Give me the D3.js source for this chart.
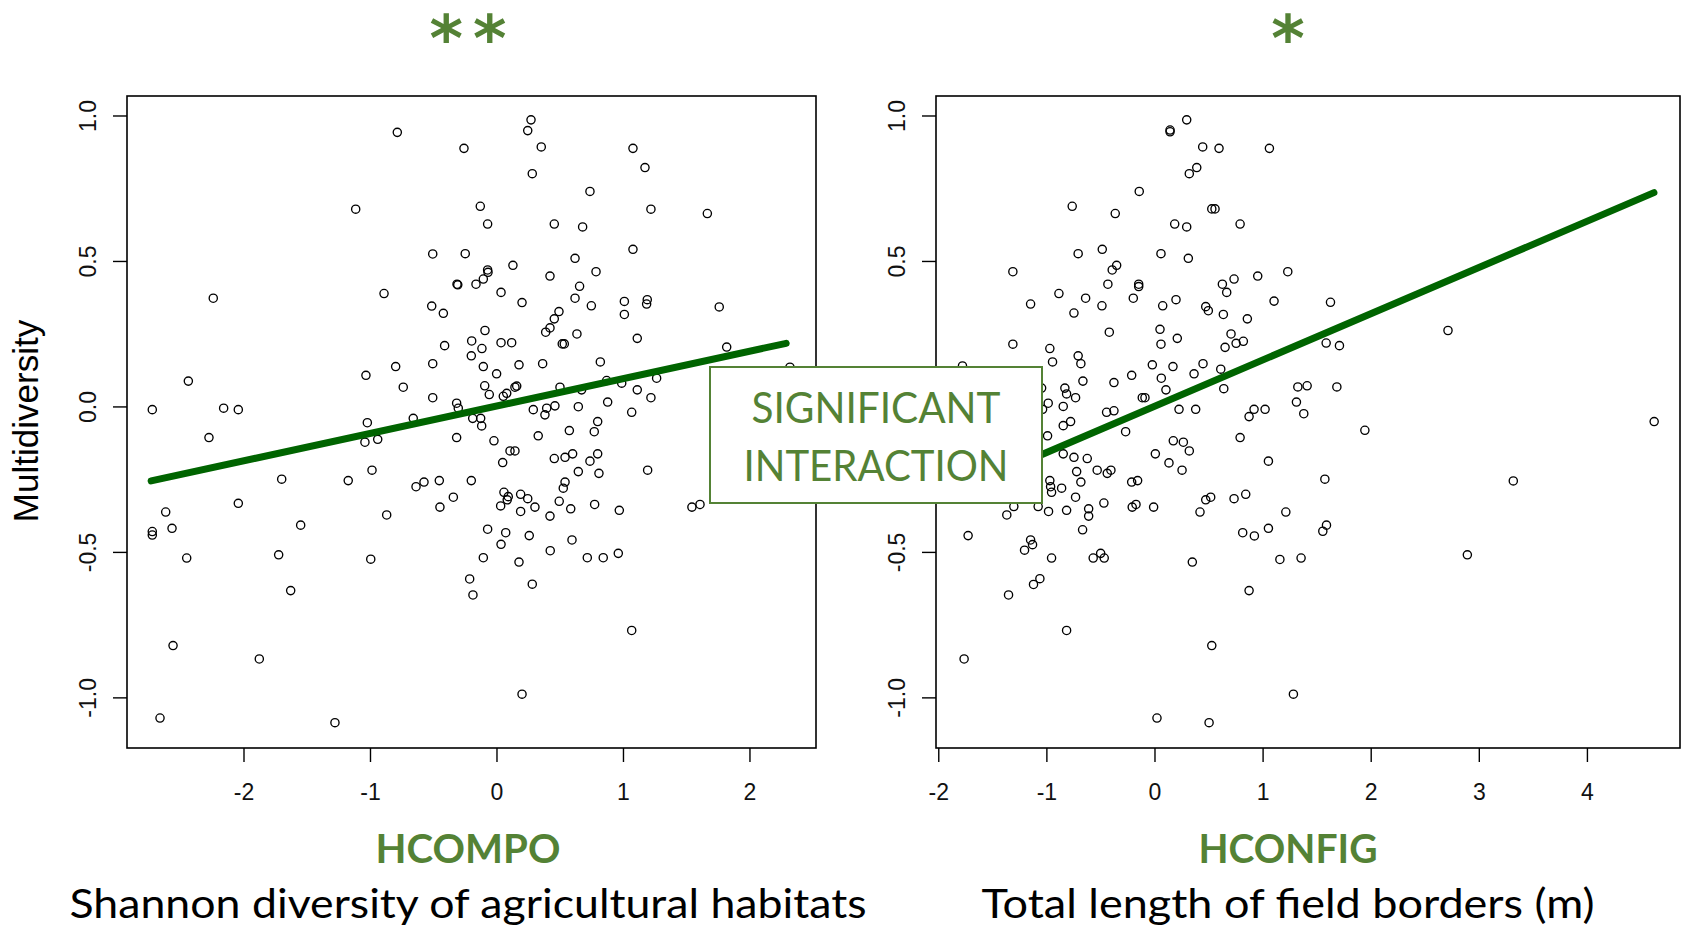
<!DOCTYPE html>
<html>
<head>
<meta charset="utf-8">
<script src="https://cdn.jsdelivr.net/npm/d3@7"></script>
<style>
  html, body { margin: 0; padding: 0; background: #fff; }
  svg { display: block; }
</style>
</head>
<body>
<svg id="chart" width="1682" height="929"></svg>
<script>
// ---------------- DATA ----------------
const yTicks = [-1, -0.5, 0, 0.5, 1];
const yTickLabels = ["-1.0", "-0.5", "0.0", "0.5", "1.0"];
const hcompoTicks = [-2, -1, 0, 1, 2];
const hconfigTicks = [-2, -1, 0, 1, 2, 3, 4];

const hcompoX = [-0.784,-1.113,-0.504,-2.239,-0.889,-0.512,-0.420,-0.410,-0.797,-0.504,-1.032,-0.737,-0.504,-2.436,-2.721,-2.157,-2.041,
 0.273,0.247,-0.257,0.354,1.079,1.174,0.283,0.739,-0.128,-0.070,0.457,0.681,1.221,1.667,-0.247,1.079,0.621,0.130,-0.070,-0.067,-0.104,-0.162,-0.312,-0.306,
 0.423,0.787,0.657,0.036,0.202,0.621,0.750,1.011,1.192,1.187,1.011,1.761,0.494,0.457,0.423,0.389,-0.091,0.636,1.113,-0.196,-0.115,0.036,0.120,0.520,0.536,1.820,
 -0.199,-0.104,0.001,0.178,0.365,0.821,-0.093,-0.057,0.054,0.081,0.146,0.160,0.502,0.673,0.871,0.990,1.113,1.266,-0.315,-0.302,1.221,0.879,0.647,0.291,0.397,0.462,1.069,2.320,-0.658,
 -0.188,-0.125,-0.117,-0.315,-0.020,0.330,0.383,0.800,0.773,0.576,0.107,0.146,0.049,0.457,0.542,0.602,0.739,0.800,0.647,0.810,1.195,
 -0.636,-0.573,-0.452,-0.199,0.542,0.528,-0.341,-0.447,0.059,0.093,0.085,0.033,0.191,0.247,0.191,0.304,0.496,0.587,0.423,0.776,0.971,1.545,1.609,
 -0.070,0.073,0.259,0.036,0.597,0.425,-0.104,0.178,0.718,0.844,0.963,-0.212,-0.186,0.283,1.069,0.202,
 -2.273,-1.021,-1.040,-0.939,-0.984,-1.698,-1.172,-2.041,-0.868,-2.615,-2.721,-2.721,-2.565,-1.548,-2.449,-1.722,-0.994,-1.627,-2.557,-1.875,-2.660,-1.277];
const hcompoY = [0.942,0.678,0.524,0.372,0.388,0.345,0.320,0.209,0.137,0.147,0.107,0.066,0.030,0.087,-0.011,-0.006,-0.011,
 0.985,0.948,0.887,0.892,0.887,0.821,0.800,0.739,0.688,0.627,0.627,0.617,0.678,0.663,0.525,0.540,0.509,0.485,0.469,0.461,0.438,0.420,0.420,0.418,
 0.448,0.463,0.413,0.392,0.357,0.372,0.346,0.361,0.367,0.352,0.316,0.342,0.326,0.301,0.270,0.255,0.261,0.249,0.234,0.225,0.199,0.219,0.219,0.215,0.215,0.204,
 0.174,0.137,0.112,0.143,0.147,0.153,0.071,0.041,0.035,0.045,0.066,0.070,0.066,0.057,0.089,0.080,0.057,0.097,0.011,-0.006,0.030,0.015,-0.001,-0.011,-0.006,0.002,-0.020,0.135,-0.041,
 -0.041,-0.041,-0.067,-0.107,-0.118,-0.101,-0.029,-0.052,-0.087,-0.083,-0.153,-0.153,-0.193,-0.179,-0.175,-0.163,-0.188,-0.163,-0.224,-0.230,-0.219,
 -0.276,-0.260,-0.255,-0.255,-0.260,-0.281,-0.312,-0.346,-0.295,-0.310,-0.321,-0.342,-0.302,-0.317,-0.361,-0.346,-0.326,-0.352,-0.377,-0.337,-0.357,-0.346,-0.337,
 -0.422,-0.434,-0.444,-0.474,-0.459,-0.496,-0.520,-0.535,-0.520,-0.520,-0.505,-0.593,-0.648,-0.611,-0.770,-0.989,
 -0.107,-0.056,-0.123,-0.113,-0.219,-0.250,-0.255,-0.333,-0.373,-0.363,-0.430,-0.442,-0.419,-0.408,-0.521,-0.510,-0.525,-0.633,-0.822,-0.868,-1.071,-1.087];

const hconfigX = [0.298,0.144,0.144,0.446,0.597,1.063,0.391,0.322,-0.141,-0.761,-0.363,0.530,0.560,0.187,0.298,0.792,-0.706,-0.483,0.060,0.313,-1.310,-0.350,-0.391,
 -0.146,-0.146,-0.431,-0.884,-0.637,-1.146,-0.745,-0.486,-0.196,0.076,0.199,0.628,0.668,0.736,0.955,1.106,0.474,0.498,0.637,0.859,-0.418,0.051,0.211,0.060,
 0.708,0.755,0.822,0.653,-1.310,-0.968,-0.943,-0.706,-0.681,-1.776,-0.020,0.171,0.449,0.613,0.366,0.063,-0.211,-0.662,-0.375,0.106,0.641,-0.113,-0.088,
 -0.829,-0.813,-0.730,-1.044,0.227,0.381,0.921,1.023,0.875,-0.443,-0.375,-0.983,-0.844,
 1.233,1.628,2.715,1.588,1.711,1.326,1.412,1.687,1.313,1.381,4.622,-1.035,-0.844,-0.776,-0.989,-0.267,0.792,0.174,0.267,0.322,0.008,1.054,0.134,0.255,
 -0.844,-0.745,-0.622,-0.720,-0.681,-0.530,-0.437,-0.403,-0.211,-0.156,-0.968,-0.961,-0.952,-0.859,-0.730,-1.076,-0.980,-0.813,-0.609,-0.609,-0.468,
 -0.206,-0.171,-0.008,0.421,0.474,0.520,0.736,0.844,-1.366,-1.301,-0.665,0.816,0.924,1.054,-1.724,-1.146,-1.128,-1.202,-0.952,-0.567,-0.498,-0.465,
 0.350,1.160,-1.060,-1.119,-1.350,0.875,-0.813,0.530,-1.761,0.023,0.505,1.946,1.576,3.319,1.215,1.591,1.557,1.356,2.894,1.285];
const hconfigY = [0.985,0.950,0.944,0.892,0.887,0.887,0.821,0.800,0.739,0.688,0.663,0.679,0.679,0.627,0.617,0.627,0.525,0.540,0.525,0.509,0.463,0.485,0.469,
 0.420,0.412,0.420,0.388,0.372,0.352,0.321,0.346,0.372,0.346,0.367,0.420,0.392,0.438,0.448,0.362,0.343,0.329,0.316,0.301,0.255,0.265,0.234,0.214,
 0.249,0.217,0.224,0.203,0.214,0.199,0.153,0.174,0.147,0.139,0.143,0.137,0.147,0.128,0.112,0.097,0.107,0.087,0.082,0.057,0.061,0.030,0.030,
 0.063,0.043,0.030,0.063,-0.010,-0.010,-0.010,-0.010,-0.035,-0.020,-0.015,0.011,0.000,
 0.463,0.358,0.261,0.218,0.209,0.067,0.071,0.067,0.015,-0.025,-0.052,-0.010,-0.066,-0.052,-0.101,-0.087,-0.107,-0.118,-0.123,-0.153,-0.163,-0.188,-0.194,-0.219,
 -0.163,-0.175,-0.179,-0.224,-0.260,-0.219,-0.230,-0.219,-0.260,-0.255,-0.255,-0.276,-0.295,-0.281,-0.312,-0.344,-0.361,-0.357,-0.352,-0.377,-0.332,
 -0.346,-0.337,-0.346,-0.363,-0.321,-0.312,-0.317,-0.302,-0.373,-0.344,-0.424,-0.434,-0.445,-0.419,-0.444,-0.459,-0.475,-0.494,-0.521,-0.521,-0.505,-0.521,
 -0.535,-0.526,-0.592,-0.612,-0.648,-0.633,-0.770,-0.822,-0.868,-1.071,-1.087,-0.082,-0.250,-0.256,-0.363,-0.408,-0.429,-0.521,-0.510,-0.989];

// fitted regression lines (endpoints)
const fitCompoX = [-2.73, 2.29];
const fitCompoY = [-0.256, 0.217];
const fitConfigX = [-1.77, 4.62];
const fitConfigY = [-0.281, 0.735];

// ---------------- DRAW ----------------
const svg = d3.select("#chart");
const GREEN = "#548235";
const LINE_GREEN = "#006400";

const plotTop = 96, plotBottom = 748;
const yScale = d3.scaleLinear().domain([-1.174, 1.067]).range([plotBottom, plotTop]);

function panel(cfg) {
  const x = d3.scaleLinear().domain(cfg.domain).range([cfg.left, cfg.right]);
  const g = svg.append("g");

  // points
  g.append("g").selectAll("circle")
    .data(d3.range(cfg.xs.length))
    .join("circle")
    .attr("cx", i => x(cfg.xs[i]))
    .attr("cy", i => yScale(cfg.ys[i]))
    .attr("r", 4.1)
    .attr("fill", "none")
    .attr("stroke", "#000")
    .attr("stroke-width", 1.35);

  // fitted line
  const line = d3.line().x(d => x(d[0])).y(d => yScale(d[1]));
  g.append("path")
    .datum(cfg.fitX.map((v, i) => [v, cfg.fitY[i]]))
    .attr("d", line)
    .attr("fill", "none")
    .attr("stroke", LINE_GREEN)
    .attr("stroke-width", 7)
    .attr("stroke-linecap", "round");

  // box
  g.append("rect")
    .attr("x", cfg.left).attr("y", plotTop)
    .attr("width", cfg.right - cfg.left).attr("height", plotBottom - plotTop)
    .attr("fill", "none").attr("stroke", "#000").attr("stroke-width", 1.6);

  // x axis
  const xa = g.append("g").attr("transform", `translate(0,${plotBottom})`)
    .call(d3.axisBottom(x).tickValues(cfg.ticks).tickSize(14).tickFormat(d => String(d)));
  xa.select(".domain").remove();
  xa.selectAll("line").attr("stroke", "#000").attr("stroke-width", 1.4);
  xa.selectAll("text")
    .attr("y", 52).attr("dy", null)
    .attr("font-family", "'Liberation Sans', Arial, sans-serif")
    .attr("font-size", 23).attr("fill", "#111");

  // y axis
  const ya = g.append("g").attr("transform", `translate(${cfg.left},0)`)
    .call(d3.axisLeft(yScale).tickValues(yTicks).tickSize(14)
      .tickFormat((d, i) => yTickLabels[i]));
  ya.select(".domain").remove();
  ya.selectAll("line").attr("stroke", "#000").attr("stroke-width", 1.4);
  ya.selectAll("text")
    .attr("x", null).attr("dy", null)
    .attr("transform", "translate(-31,0) rotate(-90)")
    .attr("text-anchor", "middle")
    .attr("font-family", "'Liberation Sans', Arial, sans-serif")
    .attr("font-size", 23).attr("fill", "#111");

  // stars
  svg.append("text")
    .attr("x", cfg.center + cfg.starShift).attr("y", 61)
    .attr("text-anchor", "middle")
    .attr("font-family", "'DejaVu Sans', sans-serif")
    .attr("font-weight", 700).attr("font-size", 64)
    .attr("letter-spacing", cfg.starSpacing)
    .attr("fill", GREEN)
    .text(cfg.stars);

  // variable name
  svg.append("text")
    .attr("x", cfg.center).attr("y", 863)
    .attr("text-anchor", "middle")
    .attr("font-family", "Lato, 'Open Sans', sans-serif")
    .attr("font-weight", 700).attr("font-size", 41)
    .attr("textLength", cfg.nameLen).attr("lengthAdjust", "spacingAndGlyphs")
    .attr("fill", GREEN)
    .text(cfg.name);

  // description
  svg.append("text")
    .attr("x", cfg.center).attr("y", 918)
    .attr("text-anchor", "middle")
    .attr("font-family", "Lato, 'Open Sans', sans-serif")
    .attr("font-size", 41)
    .attr("textLength", cfg.descLen).attr("lengthAdjust", "spacingAndGlyphs")
    .attr("fill", "#000")
    .text(cfg.desc);
}

panel({
  left: 127, right: 816, domain: [-2.921, 2.526], ticks: hcompoTicks,
  xs: hcompoX, ys: hcompoY, fitX: fitCompoX, fitY: fitCompoY,
  center: 468, stars: "**", starSpacing: 10, starShift: 5, name: "HCOMPO", nameLen: 185,
  desc: "Shannon diversity of agricultural habitats", descLen: 797
});
panel({
  left: 936, right: 1680, domain: [-2.021, 4.861], ticks: hconfigTicks,
  xs: hconfigX, ys: hconfigY, fitX: fitConfigX, fitY: fitConfigY,
  center: 1288, stars: "*", starSpacing: 0, starShift: 0, name: "HCONFIG", nameLen: 179,
  desc: "Total length of field borders (m)", descLen: 613
});

// y-axis title
svg.append("text")
  .attr("transform", "translate(38,421) rotate(-90)")
  .attr("text-anchor", "middle")
  .attr("font-family", "'Liberation Sans', Arial, sans-serif")
  .attr("font-size", 35).attr("fill", "#000")
  .text("Multidiversity");

// significant interaction box
svg.append("rect")
  .attr("x", 710).attr("y", 367).attr("width", 332).attr("height", 136)
  .attr("fill", "#fff").attr("stroke", GREEN).attr("stroke-width", 2);
svg.append("text")
  .attr("x", 876).attr("y", 423).attr("text-anchor", "middle")
  .attr("font-family", "Lato, 'Open Sans', sans-serif").attr("font-size", 42)
  .attr("textLength", 249).attr("lengthAdjust", "spacingAndGlyphs")
  .attr("fill", GREEN).text("SIGNIFICANT");
svg.append("text")
  .attr("x", 876).attr("y", 481).attr("text-anchor", "middle")
  .attr("font-family", "Lato, 'Open Sans', sans-serif").attr("font-size", 42)
  .attr("textLength", 265).attr("lengthAdjust", "spacingAndGlyphs")
  .attr("fill", GREEN).text("INTERACTION");
</script>
</body>
</html>
